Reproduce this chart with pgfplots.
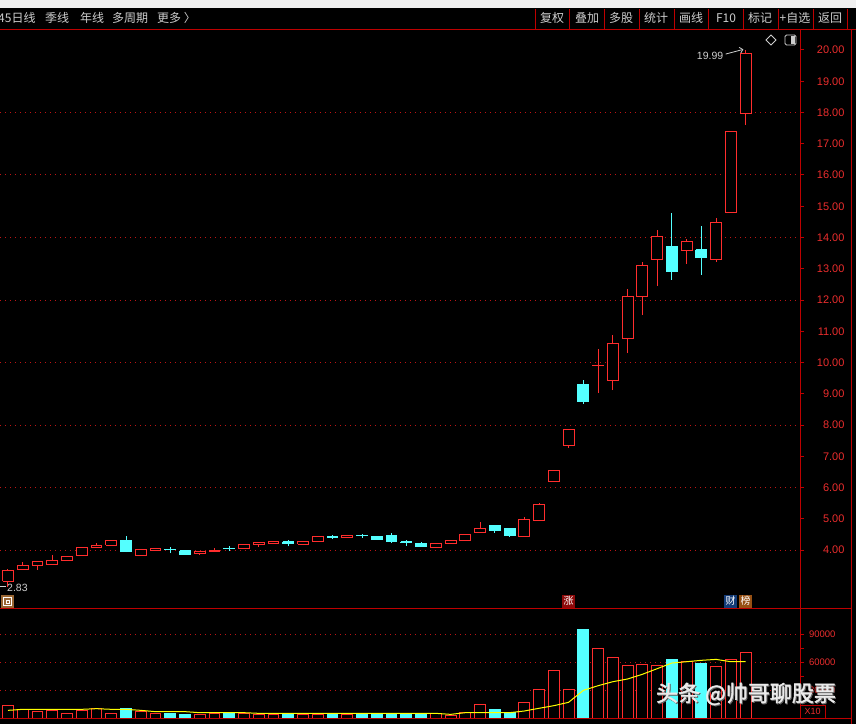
\documentclass[border=0pt]{standalone}
\usepackage{fontspec}
\setmainfont{Liberation Sans}
\newfontfamily\cjk{Noto Sans CJK SC}
\newfontfamily\cjkwm[FakeBold=2]{Noto Sans CJK SC}
\usepackage{pgfplots}
\usepackage{pgfplotstable}
\pgfplotsset{compat=1.18}
\usetikzlibrary{arrows.meta}

\definecolor{upred}{RGB}{255,45,45}
\definecolor{dncyan}{RGB}{84,255,255}
\definecolor{frame}{RGB}{190,0,0}
\definecolor{gridred}{RGB}{190,20,20}
\definecolor{lblred}{RGB}{235,45,45}
\definecolor{txt}{RGB}{205,205,205}
\definecolor{malin}{RGB}{255,255,0}

% daily bars: open high low close volume volume-MA
\pgfplotstableread{
i o h l c v ma
0 3.00 3.38 2.83 3.36 13600 8200
1 3.37 3.61 3.37 3.52 9300 9300
2 3.50 3.62 3.37 3.62 7100 9300
3 3.53 3.84 3.53 3.67 8200 9300
4 3.66 3.81 3.65 3.80 4600 9300
5 3.82 4.09 3.82 4.09 8200 9300
6 4.07 4.22 4.07 4.15 10700 10000
7 4.15 4.31 4.14 4.31 4600 9300
8 4.32 4.45 3.93 3.94 10700 9300
9 3.82 4.03 3.82 4.02 7100 8200
10 3.99 4.07 3.97 4.04 4600 6800
11 4.03 4.10 3.90 4.01 4600 6800
12 3.97 3.98 3.86 3.87 3900 6800
13 3.88 3.96 3.85 3.95 3600 5700
14 3.94 4.06 3.94 4.00 4600 5700
15 4.06 4.12 3.98 4.04 4600 5700
16 4.04 4.20 4.04 4.19 4600 5700
17 4.17 4.24 4.11 4.23 3600 5000
18 4.20 4.27 4.19 4.27 3600 5000
19 4.27 4.31 4.12 4.20 4600 5000
20 4.18 4.28 4.16 4.28 3600 5000
21 4.27 4.42 4.27 4.42 3600 5000
22 4.43 4.48 4.35 4.41 4600 5000
23 4.40 4.47 4.39 4.46 3600 5000
24 4.47 4.52 4.40 4.45 4600 5000
25 4.42 4.45 4.35 4.35 4600 5000
26 4.45 4.55 4.22 4.27 4600 5000
27 4.26 4.33 4.14 4.24 4600 5000
28 4.22 4.26 4.11 4.11 4600 5000
29 4.09 4.22 4.09 4.22 4600 5000
30 4.20 4.31 4.20 4.31 2900 3900
31 4.30 4.51 4.30 4.51 5700 5700
32 4.55 4.90 4.55 4.69 14300 5700
33 4.77 4.81 4.55 4.64 9300 5700
34 4.70 4.71 4.43 4.45 5700 5700
35 4.43 5.05 4.43 4.99 16400 7500
36 4.94 5.51 4.94 5.46 30300 10400
37 6.19 6.55 6.19 6.55 50700 13200
38 7.34 7.87 7.27 7.86 30300 16800
39 9.31 9.44 8.68 8.75 95000 29600
40 9.89 10.43 9.03 9.91 74300 34600
41 9.42 10.88 9.12 10.61 64600 38900
42 10.76 12.35 10.30 12.12 56000 41800
43 12.11 13.22 11.52 13.11 57100 46800
44 13.29 14.24 12.45 14.04 56000 52800
45 13.70 14.78 12.64 12.90 62800 58900
46 13.58 13.95 13.16 13.88 60700 60300
47 13.60 14.37 12.80 13.35 58500 61800
48 13.29 14.61 13.23 14.49 55000 62800
49 14.81 17.40 14.80 17.40 62500 60300
50 17.98 19.99 17.60 19.90 70000 60300
}\kdata

\begin{document}
\begin{tikzpicture}[x=1pt,y=1pt]
\fill[black] (0,0) rectangle (856,724);
\useasboundingbox (0,0) rectangle (856,724);

% title strip and toolbar
\fill[black!6] (0,716) rectangle (856,724);
\draw[frame, line width=1pt] (0,694.5) -- (856,694.5);
\foreach \sx in {535,569,604,639,674,708,743,778,813,847}
  \draw[frame, line width=1pt] (\sx,695) -- (\sx,715);
\begin{scope}[every node/.style={font=\cjk\fontsize{12}{14}\selectfont, text=txt, inner sep=0pt}]
\node[anchor=west] at (-2,706) {45日线};
\node[anchor=west] at (45,706) {季线};
\node[anchor=west] at (80,706) {年线};
\node[anchor=west] at (112,706) {多周期};
\node[anchor=west] at (157,706) {更多 〉};
\node at (552,706) {复权};
\node at (587,706) {叠加};
\node at (621,706) {多股};
\node at (656,706) {统计};
\node at (691,706) {画线};
\node at (726,706) {F10};
\node at (760,706) {标记};
\node at (795,706) {+自选};
\node at (830,706) {返回};
\end{scope}

% price panel
\begin{axis}[
  at={(0pt,116pt)}, anchor=south west, scale only axis,
  width=800pt, height=578pt,
  xmin=-0.542, xmax=53.69, ymin=2.144, ymax=20.64,
  axis line style={draw=none}, xtick=\empty,
  ytick={4,5,...,20}, ytick pos=right, yticklabel pos=right,
  tick align=outside, major tick length=4pt,
  tick style={draw=frame, line width=1pt},
  yticklabel style={font=\fontsize{11}{12}\selectfont, text=lblred,
    anchor=east, xshift=44pt,
    /pgf/number format/.cd, fixed, fixed zerofill, precision=2, assume math mode=true},
  extra y ticks={4,6,...,18}, extra y tick labels={},
  extra y tick style={grid=major, major tick length=0pt},
  major grid style={gridred, line width=1pt, dash pattern=on 1pt off 4pt},
]
\pgfplotsforeachungrouped \k in {0,...,50}{%
  \pgfplotstablegetelem{\k}{o}\of\kdata \let\vo\pgfplotsretval
  \pgfplotstablegetelem{\k}{h}\of\kdata \let\vh\pgfplotsretval
  \pgfplotstablegetelem{\k}{l}\of\kdata \let\vl\pgfplotsretval
  \pgfplotstablegetelem{\k}{c}\of\kdata \let\vc\pgfplotsretval
  \pgfmathsetmacro\xa{\k-0.37}\pgfmathsetmacro\xb{\k+0.37}%
  \ifdim\vc pt<\vo pt \def\col{dncyan}\def\fil{dncyan}\else\def\col{upred}\def\fil{black}\fi
  \edef\doit{%
    \noexpand\addplot[draw=\col, line width=1pt, mark=none] coordinates {(\k,\vl) (\k,\vh)};
    \noexpand\addplot[draw=\col, fill=\fil, line width=1pt, mark=none]
      coordinates {(\xa,\vo) (\xb,\vo) (\xb,\vc) (\xa,\vc) (\xa,\vo)};}%
  \doit
}
\draw[txt, line width=1pt] (axis cs:-0.55,2.83) -- (axis cs:-0.15,2.83);
\node[text=txt, font=\fontsize{10.5}{12}\selectfont, anchor=west, inner sep=0pt]
  at (axis cs:-0.07,2.80) {2.83};
\node[text=txt, font=\fontsize{10.5}{12}\selectfont, anchor=east, inner sep=0pt]
  at (axis cs:48.5,19.81) {19.99};
\draw[txt, line width=0.8pt, -{Straight Barb[length=3pt]}] (axis cs:48.65,19.87) -- (axis cs:49.85,20.02);
\end{axis}

% volume panel
\begin{axis}[
  at={(0pt,6pt)}, anchor=south west, scale only axis,
  width=800pt, height=109pt,
  xmin=-0.542, xmax=53.69, ymin=0, ymax=116786,
  axis line style={draw=none}, xtick=\empty,
  ytick={30000,60000,90000}, minor y tick num=1,
  ytick pos=right, yticklabel pos=right,
  tick align=outside, major tick length=4pt, minor tick length=4pt,
  tick style={draw=frame, line width=1pt},
  scaled y ticks=false,
  yticklabel style={font=\fontsize{9.5}{11}\selectfont, text=lblred,
    anchor=east, xshift=35pt,
    /pgf/number format/.cd, fixed, precision=0, 1000 sep={}, assume math mode=true},
  ymajorgrids,
  major grid style={gridred, line width=1pt, dash pattern=on 1pt off 4pt},
]
\pgfplotsforeachungrouped \k in {0,...,50}{%
  \pgfplotstablegetelem{\k}{o}\of\kdata \let\vo\pgfplotsretval
  \pgfplotstablegetelem{\k}{c}\of\kdata \let\vc\pgfplotsretval
  \pgfplotstablegetelem{\k}{v}\of\kdata \let\vv\pgfplotsretval
  \pgfmathsetmacro\xa{\k-0.37}\pgfmathsetmacro\xb{\k+0.37}%
  \ifdim\vc pt<\vo pt \def\col{dncyan}\def\fil{dncyan}\else\def\col{upred}\def\fil{black}\fi
  \edef\doit{%
    \noexpand\addplot[draw=\col, fill=\fil, line width=1pt, mark=none]
      coordinates {(\xa,0) (\xa,\vv) (\xb,\vv) (\xb,0)};}%
  \doit
}
\addplot[malin, line width=1pt, mark=none] table[x=i, y=ma] {\kdata};
\end{axis}

% panel frames
\draw[frame, line width=1pt] (0,115.5) -- (851,115.5);
\draw[frame, line width=1pt] (0,6) -- (851,6);
\draw[frame, line width=1pt] (800,6) -- (800,694);
\draw[frame, line width=1pt] (851,0) -- (851,694);

% small icons and event marks
\draw[txt, line width=0.8pt] (771,689) -- (776,684) -- (771,679) -- (766,684) -- cycle;
\draw[txt, line width=0.8pt, rounded corners=1.5pt] (785,679) rectangle (796,689);
\fill[txt] (791,680) rectangle (795,688);
\fill[brown!80!black] (1,116) rectangle (14,129);
\draw[white, line width=1pt] (3.5,118.5) rectangle (11.5,126.5);
\draw[white, line width=1pt] (6,121) rectangle (9,124);
\begin{scope}[every node/.style={font=\cjk\fontsize{10}{12}\selectfont, text=white, inner sep=0.5pt, minimum size=13pt}]
\node[fill={rgb,255:red,140;green,10;blue,10}] at (568.5,123) {涨};
\node[fill={rgb,255:red,20;green,60;blue,120}] at (730.5,123) {财};
\node[fill={rgb,255:red,150;green,80;blue,20}] at (745.5,123) {榜};
\end{scope}

% X10 box and watermark
\draw[frame, line width=1pt] (800,6) rectangle (825,19);
\node[text=lblred, font=\fontsize{9}{10}\selectfont, inner sep=0pt] at (812.5,12.5) {X10};
\node[text=black!60, font=\cjkwm\fontsize{22}{24}\selectfont, inner sep=0pt] at (747,29) {头条 @帅哥聊股票};
\node[text=black!8, font=\cjkwm\fontsize{22}{24}\selectfont, inner sep=0pt] at (746,30) {头条 @帅哥聊股票};
\end{tikzpicture}
\end{document}
